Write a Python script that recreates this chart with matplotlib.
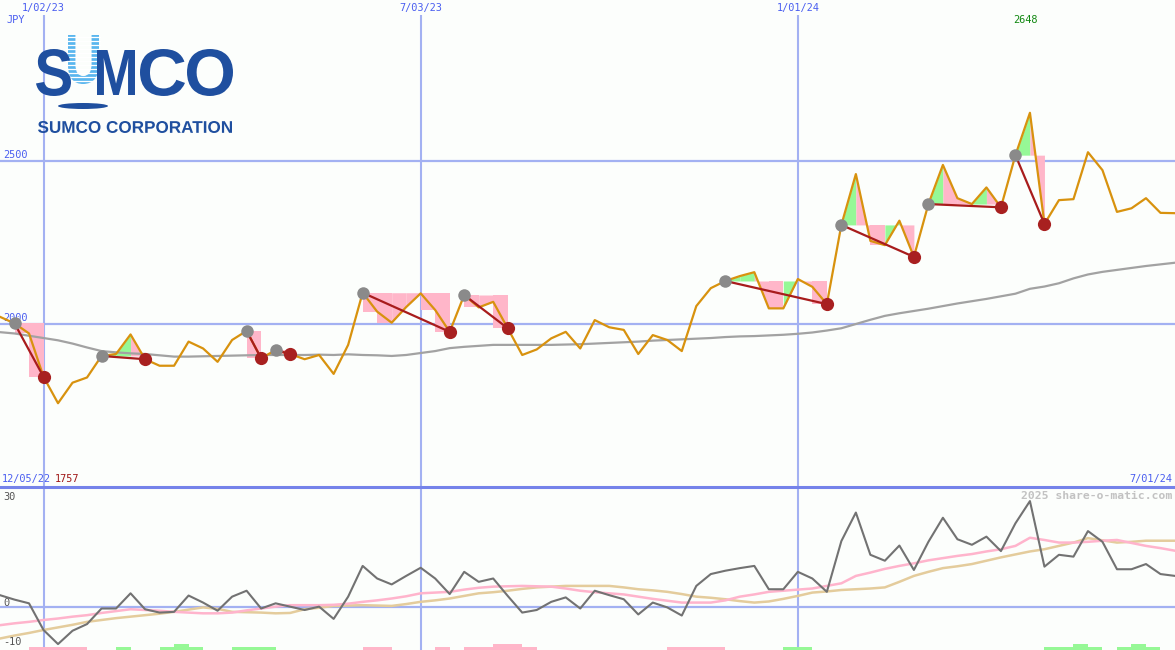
import matplotlib
matplotlib.use("Agg")
import matplotlib.pyplot as plt
from matplotlib.patches import Ellipse, PathPatch
from matplotlib.textpath import TextPath
from matplotlib.font_manager import FontProperties
from matplotlib.transforms import Affine2D, blended_transform_factory

# weekly closes (JPY), 12/12/22 .. 7/01/24
price = [2022, 2002, 1971, 1838, 1757, 1820, 1836, 1902, 1908, 1968,
         1892, 1872, 1872, 1946, 1925, 1884, 1951, 1979, 1895, 1920,
         1908, 1892, 1905, 1847, 1936, 2096, 2038, 2004, 2052, 2094,
         2043, 1976, 2089, 2051, 2068, 1987, 1905, 1922, 1956, 1976,
         1925, 2012, 1990, 1982, 1908, 1966, 1951, 1917, 2055, 2110,
         2132, 2147, 2159, 2048, 2048, 2138, 2114, 2061, 2304, 2460,
         2255, 2242, 2317, 2206, 2368, 2488, 2386, 2368, 2419, 2358,
         2518, 2648, 2307, 2380, 2383, 2527, 2472, 2344, 2355, 2386,
         2341, 2340]

# slow moving average
ma = [1975, 1971, 1964, 1957, 1950, 1940, 1928, 1917, 1913, 1910,
      1908, 1904, 1900, 1900, 1901, 1902, 1903, 1904, 1905, 1905,
      1905, 1905, 1906, 1905, 1907, 1905, 1904, 1902, 1905, 1911,
      1917, 1926, 1930, 1933, 1936, 1936, 1936, 1936, 1936, 1937,
      1938, 1940, 1942, 1944, 1946, 1949, 1951, 1953, 1955, 1957,
      1960, 1962, 1963, 1965, 1967, 1970, 1974, 1980, 1987, 2000,
      2013, 2025, 2033, 2040, 2047, 2055, 2063, 2070, 2077, 2085,
      2093, 2108, 2115, 2125, 2140, 2152, 2160, 2166, 2172, 2178,
      2183, 2188]

# lower panel: oscillator and its two signal lines
osc = [3.2, 2.0, 1.0, -6.2, -10.0, -6.4, -4.6, -0.4, -0.4, 3.7,
       -0.6, -1.5, -1.3, 3.1, 1.2, -1.0, 2.8, 4.4, -0.4, 1.0,
       0.1, -0.8, 0.1, -3.2, 2.8, 11.1, 7.7, 6.1, 8.4, 10.6,
       7.7, 3.5, 9.5, 6.8, 7.7, 3.0, -1.5, -0.8, 1.4, 2.6,
       -0.4, 4.4, 3.2, 2.1, -2.0, 1.2, -0.1, -2.3, 5.7, 8.9,
       9.8, 10.5, 11.1, 4.8, 4.8, 9.5, 7.7, 4.1, 17.8, 25.5,
       14.1, 12.5, 16.6, 10.0, 17.6, 24.1, 18.3, 16.8, 19.0, 15.1,
       22.6, 28.6, 10.9, 14.1, 13.6, 20.5, 17.6, 10.2, 10.2, 11.6,
       8.9, 8.4]
sig_fast = [-4.9, -4.4, -4.0, -3.5, -3.1, -2.6, -2.2, -1.6, -1.1, -0.6,
            -0.8, -1.0, -1.3, -1.5, -1.7, -1.7, -1.5, -0.9, -0.4, 0.1,
            0.5, 0.5, 0.5, 0.6, 0.9, 1.4, 1.8, 2.3, 2.9, 3.7,
            3.9, 4.1, 4.7, 5.2, 5.5, 5.6, 5.7, 5.6, 5.5, 5.0,
            4.4, 4.0, 3.7, 3.4, 2.8, 2.2, 1.7, 1.2, 1.2, 1.2,
            1.8, 2.8, 3.4, 4.1, 4.4, 4.7, 5.0, 5.7, 6.4, 8.4,
            9.3, 10.3, 11.1, 11.8, 12.6, 13.2, 13.8, 14.3, 15.0, 15.6,
            16.5, 18.7, 18.1, 17.4, 17.4, 17.6, 17.9, 18.1, 17.3, 16.5,
            15.9, 15.2]
sig_slow = [-8.5, -7.7, -7.0, -6.2, -5.5, -4.8, -4.0, -3.5, -3.0, -2.6,
            -2.2, -1.8, -1.3, -0.7, -0.1, -0.5, -1.3, -1.4, -1.5, -1.7,
            -1.6, -0.6, -0.2, 0.3, 0.4, 0.5, 0.4, 0.3, 0.8, 1.4,
            1.8, 2.3, 3.0, 3.7, 4.0, 4.4, 4.9, 5.3, 5.5, 5.7,
            5.7, 5.7, 5.7, 5.3, 4.8, 4.5, 4.1, 3.5, 2.8, 2.5,
            2.1, 1.6, 1.2, 1.5, 2.2, 3.0, 3.9, 4.2, 4.6, 4.8,
            5.0, 5.3, 6.8, 8.4, 9.5, 10.5, 11.0, 11.6, 12.5, 13.4,
            14.2, 15.0, 15.6, 16.5, 17.4, 18.6, 18.0, 17.4, 17.6, 17.9,
            17.9, 17.9]

# signal bars at the bottom (+ green, - pink, 2 = strong), one per week interval
bars = [0, 0, -1, -1, -1, -1, 0, 0, 1, 0,
        0, 1, 2, 1, 0, 0, 1, 1, 1, 0,
        0, 0, 0, 0, 0, -1, -1, 0, 0, 0,
        -1, 0, -1, -1, -2, -2, -1, 0, 0, 0,
        0, 0, 0, 0, 0, 0, -1, -1, -1, -1,
        0, 0, 0, 0, 1, 1, 0, 0, 0, 0,
        0, 0, 0, 0, 0, 0, 0, 0, 0, 0,
        0, 0, 1, 1, 2, 1, 0, 1, 2, 1,
        0]

# swing high -> following low
swing_hi = [1, 7, 17, 19, 25, 32, 50, 58, 64, 70]
swing_lo = [3, 10, 18, 20, 31, 35, 57, 63, 69, 72]

date_ticks = [3, 29, 55]
date_labels = ["1/02/23", "7/03/23", "1/01/24"]
price_grid = [2500, 2000]
osc_labels = [30, 0, -10]

BG = "#fcfefc"
GRID = "#a3b1f2"
BLUE_TXT = "#4a5ef0"
PINK = "#ffb6c9"
GREEN = "#96f896"
ORANGE = "#d8920e"
LOGO = "#1f4f9f"
LOGO_LT = "#5ab6ee"
MONO = "DejaVu Sans Mono"
FS = 7.4

W, H = 1175, 650
fig = plt.figure(figsize=(W / 100, H / 100), dpi=100)
fig.patch.set_facecolor(BG)

split = 487
ax1 = fig.add_axes([0, 1 - split / H, 1, split / H])
ax2 = fig.add_axes([0, 0, 1, 1 - split / H])
x = list(range(len(price)))
for ax in (ax1, ax2):
    ax.set_xlim(0, len(price) - 1)
    ax.set_axis_off()
ax1.set_ylim(1500, 2994)
ax2.set_ylim(-11.6, 32.4)

# ---- top panel
for g in price_grid:
    ax1.axhline(g, color=GRID, lw=1.6, zorder=1)
ax1.vlines(date_ticks, 1500, 2948, color=GRID, lw=1.5, zorder=1)

for a, b in zip(swing_hi, swing_lo):
    lev = price[a]
    for i in range(a, b):
        p0, p1 = price[i], price[i + 1]
        col = GREEN if (p1 > p0 and p1 > lev) else PINK
        if p1 < p0 and p0 <= lev:
            ax1.fill_between([i, i + 1], lev, p1, color=col, lw=0, zorder=2)
        else:
            ax1.fill_between([i, i + 1], lev, [p0, p1], color=col, lw=0, zorder=2)

ax1.plot(x, ma, color="#a2a2a2", lw=1.6, zorder=3)
ax1.plot(x, price, color=ORANGE, lw=1.6, zorder=4)
for a, b in zip(swing_hi, swing_lo):
    ax1.plot([a, b], [price[a], price[b]], color="#a81c1c", lw=1.6, zorder=5)
ax1.plot(swing_hi, [price[i] for i in swing_hi], "o", color="#8a8a8a", ms=9, mew=0, zorder=6)
ax1.plot(swing_lo, [price[i] for i in swing_lo], "o", color="#a82020", ms=9.5, mew=0, zorder=6)

tr1 = blended_transform_factory(ax1.transData, ax1.transAxes)
for t, lab in zip(date_ticks, date_labels):
    ax1.text(t, 1 - 8 / split, lab, transform=tr1, ha="center", va="center",
             family=MONO, fontsize=FS, color=BLUE_TXT)
for g in price_grid:
    ax1.text(0.2, g + 18, str(g), ha="left", va="center",
             family=MONO, fontsize=FS, color=BLUE_TXT)
imax = price.index(max(price))
ax1.text(imax - 0.3, 1 - 20 / split, str(max(price)), transform=tr1, ha="center", va="center",
         family=MONO, fontsize=FS, color="#118811")

# ---- bottom panel
ax2.axhline(0, color=GRID, lw=1.6, zorder=1)
ax2.vlines(date_ticks, -11.6, 32.4, color=GRID, lw=1.5, zorder=1)
for i, s in enumerate(bars):
    if s:
        ax2.bar(i, 0.8 * abs(s), bottom=-11.6, width=1, align="edge",
                color=GREEN if s > 0 else PINK, lw=0, zorder=2)
ax2.plot(x, sig_slow, color="#e4cc9c", lw=1.8, zorder=3)
ax2.plot(x, sig_fast, color="#ffb4cc", lw=1.8, zorder=3)
ax2.plot(x, osc, color="#727272", lw=1.5, zorder=4)
for v in osc_labels:
    ypos = {30: 29.7, 0: 1.2, -10: -9.5}[v]
    ax2.text(0.2, ypos, str(v), ha="left", va="center",
             family=MONO, fontsize=FS, color="#555555")

# ---- overlay in pixel coordinates: labels, divider, logo
ov = fig.add_axes([0, 0, 1, 1])
ov.set_xlim(0, W)
ov.set_ylim(H, 0)
ov.set_axis_off()
ov.plot([0, W], [split, split], color="#7583ea", lw=2.2)
ov.text(6, 20, "JPY", family=MONO, fontsize=FS, color=BLUE_TXT, va="center")
ov.text(2, 479, "12/05/22", family=MONO, fontsize=FS, color=BLUE_TXT, va="center")
ov.text(55, 479, str(min(price)), family=MONO, fontsize=FS, color="#a01818", va="center")
ov.text(1172, 479, "7/01/24", family=MONO, fontsize=FS, color=BLUE_TXT, va="center", ha="right")
ov.text(1172, 496, "2025 share-o-matic.com", family=MONO, fontsize=8.2, fontweight="bold",
        color="#c2c2c2", va="center", ha="right")

fp = FontProperties(family="Liberation Sans", weight="bold")


def glyph(s, box, color, z=10):
    x0, x1, y0, y1 = box
    tp = TextPath((0, 0), s, size=1, prop=fp)
    ext = tp.get_extents()
    sx = (x1 - x0) / ext.width
    sy = (y1 - y0) / ext.height
    t = Affine2D().translate(-ext.x0, -ext.y1).scale(sx, -sy).translate(x0, y0)
    ov.add_patch(PathPatch(t.transform_path(tp), color=color, lw=0, zorder=z))


glyph("U", (68, 99, 35, 84), LOGO_LT, 10)
for yy in range(37, 84, 4):
    ov.plot([66, 100], [yy, yy], color="white", lw=0.9, zorder=11)
glyph("S", (36, 71, 49, 96), LOGO, 12)
glyph("M", (97, 135, 50, 95), LOGO, 12)
glyph("C", (140, 185, 49, 96), LOGO, 12)
glyph("O", (187, 233, 49, 96), LOGO, 12)
ov.add_patch(Ellipse((83, 106), 50, 6, color=LOGO, lw=0, zorder=12))
glyph("SUMCO CORPORATION", (38, 232, 121, 133), LOGO, 12)

fig.savefig("out.png", dpi=100, facecolor=BG)
